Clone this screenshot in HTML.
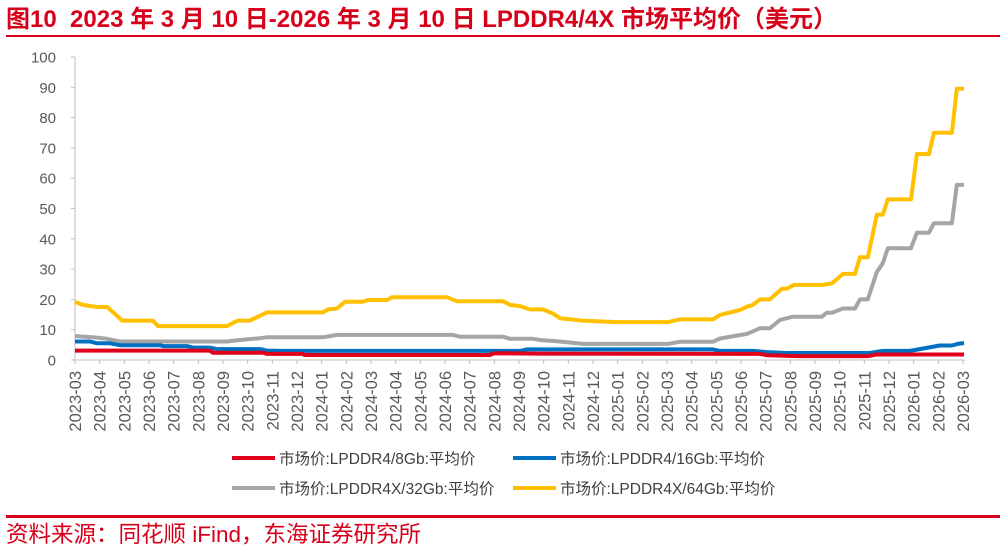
<!DOCTYPE html>
<html><head><meta charset="utf-8"><style>
body{margin:0;background:#fff;width:1007px;height:551px;overflow:hidden;font-family:"Liberation Sans","Noto Sans CJK SC",sans-serif;}
</style></head><body>
<svg width="1007" height="551" viewBox="0 0 1007 551" xmlns="http://www.w3.org/2000/svg">
<text x="6" y="27" font-size="24" font-weight="bold" fill="#d7001a" font-family="Liberation Sans, Noto Sans CJK SC, sans-serif">图10&#160;&#160;2023 年 3 月 10 日-2026 年 3 月 10 日 LPDDR4/4X 市场平均价（美元）</text>
<rect x="6" y="35" width="994" height="2" fill="#d7001a"/>
<g id="axes"></g>
<g id="series"></g>
<g id="legend"></g>
<rect x="6" y="515" width="994" height="3" fill="#d7001a"/>
<text x="6" y="542" font-size="22.5" fill="#d7001a" font-family="Liberation Sans, Noto Sans CJK SC, sans-serif">资料来源：同花顺 iFind，东海证券研究所</text>
</svg>
<script>
const xLabels = ["2023-03","2023-04","2023-05","2023-06","2023-07","2023-08","2023-09","2023-10","2023-11","2023-12","2024-01","2024-02","2024-03","2024-04","2024-05","2024-06","2024-07","2024-08","2024-09","2024-10","2024-11","2024-12","2025-01","2025-02","2025-03","2025-04","2025-05","2025-06","2025-07","2025-08","2025-09","2025-10","2025-11","2025-12","2026-01","2026-02","2026-03"];
const yTicks = [0,10,20,30,40,50,60,70,80,90,100];
const seriesNames = ["市场价:LPDDR4/8Gb:平均价","市场价:LPDDR4/16Gb:平均价","市场价:LPDDR4X/32Gb:平均价","市场价:LPDDR4X/64Gb:平均价"];
const seriesColors = ["#e0001b","#0070c0","#a5a5a5","#ffc000"];
// month index since 2023-03, value (USD)
const m8 = [0,5.47,5.59,7.62,7.78,9.24,9.3,16.82,17.0,18.85,27.77,28.05,29.27,32.14,32.51,36.04];
const v8 = [3.1,3.1,2.4,2.4,2.0,2.0,1.65,1.65,2.2,2.1,2.0,1.6,1.3,1.3,1.8,1.8];
const m16 = [0,0.61,0.89,1.42,1.82,3.45,3.57,4.54,4.78,5.47,5.76,7.5,7.78,8.31,18.04,18.32,25.86,26.15,27.48,28.05,28.86,32.22,32.75,33.85,35.06,35.55,35.79,36.04];
const v16 = [6.1,6.1,5.5,5.5,4.9,4.9,4.6,4.6,4.1,4.1,3.6,3.6,3.1,3.0,3.0,3.5,3.5,3.0,3.0,2.6,2.3,2.3,3.0,3.0,4.8,4.8,5.3,5.6];
const m32 = [0,0.73,1.3,1.82,6.16,6.69,7.5,7.78,10.05,10.62,15.32,15.61,17.35,17.63,18.56,18.85,19.66,20.59,24.04,24.52,25.86,26.15,27.24,27.77,28.17,28.58,29.1,30.28,30.48,30.69,31.13,31.62,31.82,32.14,32.51,32.75,32.95,33.89,34.13,34.62,34.82,35.55,35.75,36.04];
const v32 = [7.9,7.5,7.0,6.1,6.1,6.6,7.2,7.5,7.5,8.3,8.3,7.7,7.7,7.0,7.0,6.6,6.1,5.3,5.3,6.0,6.0,7.1,8.6,10.5,10.5,13.2,14.3,14.3,15.6,15.6,17,17,20,20,29.1,31.9,36.9,36.9,42,42,45.1,45.1,57.8,57.8];
const m64 = [0,0.32,0.89,1.3,1.54,1.91,3.16,3.36,6.16,6.4,6.61,7.09,7.78,10.05,10.26,10.62,10.94,11.67,11.88,12.65,12.85,15.08,15.48,17.35,17.63,18.04,18.44,18.97,19.38,19.66,20.59,21.97,24.04,24.52,25.86,26.15,26.96,27.24,27.48,27.77,28.17,28.66,28.86,29.15,30.32,30.69,31.13,31.62,31.82,32.14,32.51,32.75,32.95,33.89,34.13,34.62,34.82,35.55,35.75,36.04];
const v64 = [19.2,18.2,17.5,17.5,15.8,13,13,11.2,11.2,12.2,13,13,15.7,15.7,16.7,17,19.2,19.2,19.8,19.8,20.7,20.7,19.4,19.4,18.2,17.8,16.7,16.7,15.3,13.8,13.0,12.5,12.5,13.4,13.4,14.9,16.5,17.6,18.2,20,20,23.5,23.5,24.8,24.8,25.3,28.4,28.4,33.9,33.9,48,48,53,53,68,68,75,75,89.5,89.5];

const NS="http://www.w3.org/2000/svg";
const X0=75, X1=963, Y0=360, Y1=57;
const xs = m => X0 + m*(X1-X0)/(xLabels.length-1);
const ys = v => Y0 - v*(Y0-Y1)/100;
function mk(tag, attrs, parent){const e=document.createElementNS(NS,tag);for(const k in attrs)e.setAttribute(k,attrs[k]);parent.appendChild(e);return e;}
const axes=document.getElementById('axes');
const yAxis=mk('line',{x1:X0,y1:Y1,x2:X0,y2:Y0,stroke:'#bfbfbf','stroke-width':1},axes);


yTicks.forEach(t=>{
  const tk=mk('line',{x1:X0-4,y1:ys(t),x2:X0,y2:ys(t),stroke:'#bfbfbf'},axes);
  
  
  const tx=mk('text',{x:X0-19,y:ys(t)+5.5,'text-anchor':'end','font-size':15,fill:'#595959'},axes);
  tx.textContent=t;
  
  
});
const xAxis=mk('line',{x1:X0,y1:Y0,x2:X1+2,y2:Y0,stroke:'#bfbfbf','stroke-width':1},axes);


xLabels.forEach((l,i)=>{
  const x=xs(i);
  const tk=mk('line',{x1:x,y1:Y0,x2:x,y2:Y0+4,stroke:'#bfbfbf'},axes);
  
  
  const tx=mk('text',{x:0,y:0,'text-anchor':'end','font-size':16.5,fill:'#595959',transform:`translate(${x+6},${Y0+11}) rotate(-90)`},axes);
  tx.textContent=l;
  
  
});
const sg=document.getElementById('series');
const data=[[m32,v32],[m64,v64],[m16,v16],[m8,v8]];
const order=[2,3,1,0];
const names=['series-32gb','series-64gb','series-16gb','series-8gb'];
data.forEach((d,j)=>{
  const pts=d[0].map((m,i)=>xs(m).toFixed(1)+','+ys(d[1][i]).toFixed(1)).join(' ');
  const p=mk('polyline',{points:pts,fill:'none',stroke:seriesColors[order[j]],'stroke-width':4,'stroke-linejoin':'round'},sg);
  
  
});
const lg=document.getElementById('legend');
const pos=[[232,458],[513,458],[232,488],[513,488]];
seriesNames.forEach((n,i)=>{
  const [x,y]=pos[i];
  const g=mk('g',{},lg);
  
  
  mk('line',{x1:x,y1:y,x2:x+43,y2:y,stroke:seriesColors[i],'stroke-width':4},g);
  const t=mk('text',{x:x+47,y:y+6,'font-size':15.5,fill:'#404040'},g);
  t.textContent=n;
});
</script>
</body></html>
